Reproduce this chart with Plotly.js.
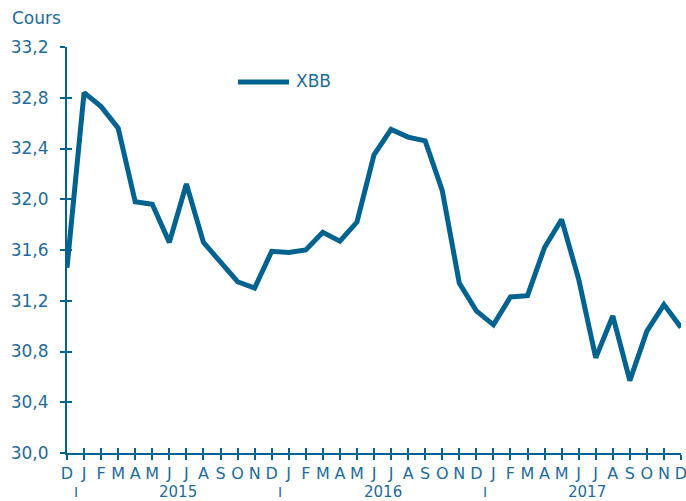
<!DOCTYPE html>
<html>
<head>
<meta charset="utf-8">
<script src="https://cdn.plot.ly/plotly-3.0.1.min.js"></script>
<style>html,body{margin:0;padding:0;background:#fff;}#chart{width:686px;height:501px;}</style>
</head>
<body>
<div id="chart"></div>
<script>
// Monthly index positions, Dec 2014 .. Dec 2017
const monthLabels = ['D','J','F','M','A','M','J','J','A','S','O','N',
                     'D','J','F','M','A','M','J','J','A','S','O','N',
                     'D','J','F','M','A','M','J','J','A','S','O','N','D'];
const xbbValues = [31.46, 32.84, 32.73, 32.56, 31.98, 31.96, 31.66, 32.12, 31.66, 31.51, 31.35, 31.30,
                   31.59, 31.58, 31.60, 31.74, 31.67, 31.82, 32.35, 32.55, 32.49, 32.46, 32.07, 31.34,
                   31.12, 31.01, 31.23, 31.24, 31.62, 31.84, 31.37, 30.75, 31.08, 30.57, 30.96, 31.17, 30.99];
const yearLabels = ['2015', '2016', '2017'];
const yearCenters = [6.5, 18.5, 30.5];
const yearSeparators = [0.5, 12.5, 24.5];
const yTicks = [30.0, 30.4, 30.8, 31.2, 31.6, 32.0, 32.4, 32.8, 33.2];
const seriesName = 'XBB';

const idx = monthLabels.map((_, i) => i);
const lineColor = '#00628f';
const textColor = '#1f6b98';
const font = 'DejaVu Sans, Arial, sans-serif';

const traces = [
  {x: [idx[0]], y: [yTicks[0]], xaxis: 'x2', yaxis: 'y2', type: 'scatter', mode: 'markers',
   marker: {opacity: 0, size: 1}, showlegend: false, hoverinfo: 'none'},
  {x: idx, y: xbbValues, type: 'scatter', mode: 'lines', name: seriesName,
   line: {color: lineColor, width: 5}, hoverinfo: 'none', showlegend: false}
];

const annotations = [];
yearLabels.forEach((t, i) => annotations.push({
  text: t, x: yearCenters[i], xref: 'x', y: -0.096, yref: 'paper',
  showarrow: false, xanchor: 'center', yanchor: 'middle', borderpad: 0,
  font: {family: font, size: 15, color: textColor}
}));
yearSeparators.forEach(v => annotations.push({
  text: 'I', x: v, xref: 'x', y: -0.096, yref: 'paper',
  showarrow: false, xanchor: 'center', yanchor: 'middle', borderpad: 0,
  font: {family: font, size: 14, color: textColor}
}));
annotations.push({
  text: 'Cours', x: -0.0928, xref: 'paper', y: 1.0714, yref: 'paper',
  showarrow: false, xanchor: 'left', yanchor: 'middle', font: {family: font, size: 17, color: textColor}
});
// legend entry
annotations.push({
  text: seriesName, x: (294 - 67) / 614, xref: 'paper', y: (453 - 81) / 406, yref: 'paper',
  showarrow: false, xanchor: 'left', yanchor: 'middle', font: {family: font, size: 17, color: textColor}
});

const shapes = [{
  type: 'line', xref: 'paper', yref: 'paper',
  x0: (238 - 67) / 614, x1: (289 - 67) / 614, y0: (453 - 82) / 406, y1: (453 - 82) / 406,
  line: {color: lineColor, width: 5}
}];

const layout = {
  width: 686, height: 501,
  margin: {l: 67, r: 5, t: 47, b: 48},
  paper_bgcolor: '#fff', plot_bgcolor: '#fff',
  separators: ', ',
  font: {family: font, color: textColor},
  showlegend: false,
  xaxis: {range: [0, 36], tickvals: idx, ticktext: monthLabels, ticks: 'outside', ticklen: 5,
          tickwidth: 2, tickcolor: lineColor, showline: true, linecolor: lineColor, linewidth: 2,
          showgrid: false, zeroline: false, ticklabeloverflow: 'allow',
          tickfont: {family: font, size: 16, color: textColor}, fixedrange: true},
  yaxis: {range: [30, 33.2], tickvals: yTicks, tickformat: '.1f', ticks: 'outside', ticklen: 5,
          tickwidth: 2, tickcolor: lineColor, showline: true, linecolor: lineColor, linewidth: 2,
          showgrid: false, zeroline: false, ticklabelstandoff: 8,
          tickfont: {family: font, size: 17, color: textColor}, fixedrange: true},
  xaxis2: {overlaying: 'x', range: [0, 36], tickvals: idx, ticks: 'inside', ticklen: 5, tickwidth: 2,
           tickcolor: lineColor, showticklabels: false, showline: false, showgrid: false, zeroline: false, anchor: 'y2'},
  yaxis2: {overlaying: 'y', range: [30, 33.2], tickvals: yTicks, ticks: 'inside', ticklen: 5, tickwidth: 2,
           tickcolor: lineColor, showticklabels: false, showline: false, showgrid: false, zeroline: false, anchor: 'x2'},
  annotations: annotations,
  shapes: shapes
};

Plotly.newPlot('chart', traces, layout, {staticPlot: true, displayModeBar: false});
</script>
</body>
</html>
